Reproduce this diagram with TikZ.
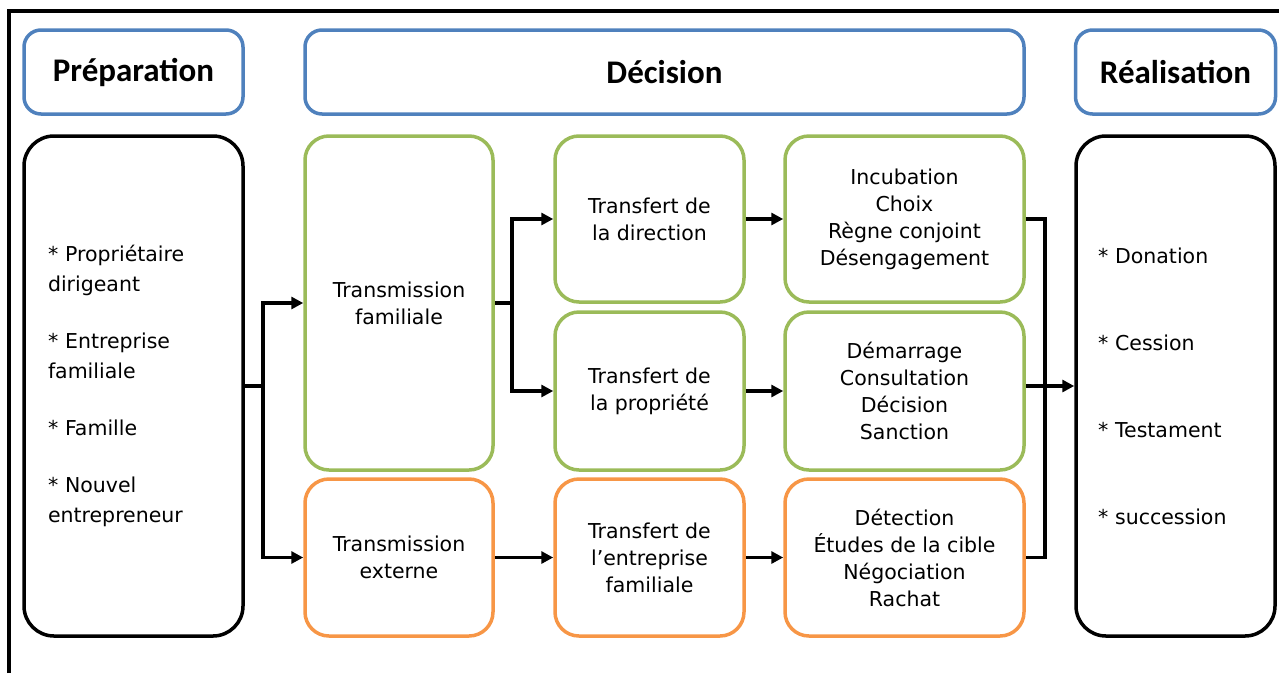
\documentclass[tikz,border=0pt]{standalone}
\usepackage{fontspec}
\setmainfont{DejaVu Sans}
\newfontfamily\headfont{Carlito}
\usetikzlibrary{arrows.meta}
\definecolor{hblue}{HTML}{4F81BD}
\definecolor{cgreen}{HTML}{9BBB59}
\definecolor{corange}{HTML}{F79646}
\begin{document}
\begin{tikzpicture}[x=1pt,y=-1pt,
  hdr/.style={draw=hblue, line width=3.5pt, rounded corners=17pt, minimum height=84pt, inner sep=0pt,
    font=\headfont\bfseries\fontsize{33}{36}\selectfont},
  bigbox/.style={draw=black, line width=3.5pt, rounded corners=30pt, minimum height=500pt,
    font=\fontsize{20.5}{30}\selectfont, align=left, inner ysep=0pt},
  stage/.style={line width=3.5pt, rounded corners=24pt, inner sep=0pt, align=center,
    font=\fontsize{20.5}{27}\selectfont},
  gbox/.style={stage, draw=cgreen},
  obox/.style={stage, draw=corange},
  conn/.style={line width=3.5pt},
  arr/.style={line width=3.5pt, -{Triangle[length=12pt,width=12pt]}}
]
\useasboundingbox (0,0) rectangle (1279,673);
% outer frame (right and bottom edges lie outside the picture)
\draw[line width=4pt] (9,673) -- (9,11) -- (1279,11);

% headers
\node[hdr, minimum width=219pt] (hprep) at (133.5,72) {Préparation};
\node[hdr, minimum width=719pt] (hdec) at (664.5,72) {Décision};
\node[hdr, minimum width=200pt] (hreal) at (1175.5,72) {Réalisation};

% side boxes
\node[bigbox, text width=171pt, inner xsep=24pt] (prep) at (133.5,386)
  {* Propriétaire\\ dirigeant\\[27pt] * Entreprise\\ familiale\\[27pt] * Famille\\[27pt] * Nouvel\\ entrepreneur};
\node[bigbox, text width=155pt, inner xsep=22pt] (real) at (1175.5,386)
  {* Donation\\[57pt] * Cession\\[57pt] * Testament\\[57pt] * succession};

% decision boxes
\node[gbox, minimum width=188pt, minimum height=334pt] (tf) at (399,303) {Transmission\\ familiale};
\node[obox, minimum width=188pt, minimum height=157pt] (te) at (399,557.5) {Transmission\\ externe};
\node[gbox, minimum width=189pt, minimum height=166pt] (td) at (649.5,219) {Transfert de\\ la direction};
\node[gbox, minimum width=189pt, minimum height=158pt] (tp) at (649.5,391) {Transfert de\\ la propriété};
\node[obox, minimum width=189pt, minimum height=157pt] (tent) at (649.5,557.5) {Transfert de\\ l’entreprise\\ familiale};
\node[gbox, minimum width=239pt, minimum height=166pt] (inc) at (904.5,219) {Incubation\\ Choix\\ Règne conjoint\\ Désengagement};
\node[gbox, minimum width=239pt, minimum height=158pt] (dem) at (904.5,391) {Démarrage\\ Consultation\\ Décision\\ Sanction};
\node[obox, minimum width=239pt, minimum height=157pt] (det) at (904.5,557.5) {Détection\\ Études de la cible\\ Négociation\\ Rachat};

% connectors
\coordinate (j1) at (263,386);
\coordinate (j2) at (512,303);
\coordinate (j3) at (1045,386);
\draw[conn] (prep.east |- j1) -- (j1);
\draw[arr] (j1) |- (tf.west);
\draw[arr] (j1) |- (te.west);
\draw[conn] (tf.east) -- (j2);
\draw[arr] (j2) |- (td.west);
\draw[arr] (j2) |- (tp.west);
\draw[arr] (td) -- (inc);
\draw[arr] (tp) -- (dem);
\draw[arr] (te) -- (tent);
\draw[arr] (tent) -- (det);
\draw[conn] (inc.east) -| (j3) |- (det.east);
\draw[arr] (dem.east |- j3) -- (real.west |- j3);
\end{tikzpicture}
\end{document}
